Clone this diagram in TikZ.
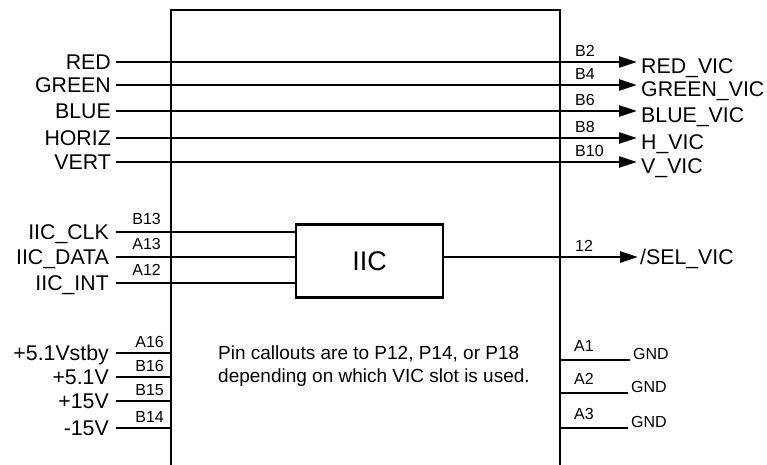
\documentclass[tikz,border=0pt]{standalone}
\usepackage{fontspec}
\setmainfont{Liberation Sans}
\usetikzlibrary{positioning}
\usetikzlibrary{arrows.meta,shapes}
\usetikzlibrary{calc}

\tikzset{
  sig/.style={font=\fontsize{21.3}{24}\selectfont, inner ysep=0pt, inner xsep=5pt, text height=15pt, text depth=0pt},
  pinlab/.style={font=\fontsize{16}{18}\selectfont, inner sep=0pt, text height=11pt, text depth=0pt},
  gndlab/.style={font=\fontsize{16}{18}\selectfont, inner ysep=0pt, inner xsep=3pt, text height=11pt, text depth=0pt},
  wire/.style={line width=2.4pt},
  sigarrow/.style={wire, -{Triangle[length=18pt,width=11pt]}}
}

\begin{document}
\begin{tikzpicture}[x=1pt,y=-1pt]

  \useasboundingbox (0,0) rectangle (767,464);

  % connector body, open at the bottom
  \draw[wire] (171,470) -- (171,10) -- (560,10) -- (560,470);

  \node[draw, line width=2.4pt, minimum width=147pt, minimum height=73pt, inner sep=0pt,
        font=\fontsize{27}{30}\selectfont] (iic) at (369.5,260.8) {IIC};

  % video signals
  \foreach \y/\name/\lab/\pin/\vic in {62/red/RED/B2/RED\_VIC, 85/green/GREEN/B4/GREEN\_VIC,
        111/blue/BLUE/B6/BLUE\_VIC, 138/horiz/HORIZ/B8/H\_VIC, 162/vert/VERT/B10/V\_VIC} {
    \node[sig, anchor=east] (\name) at (116,\y) {\lab};
    \coordinate (\name tip) at (637,\y);
    \node[sig, anchor=west, inner xsep=4pt, yshift=-4pt] (\name vic) at (\name tip) {\vic};
    \draw[sigarrow] (\name) -- (\name tip);
    \node[pinlab, anchor=south west] (\name pin) at (575,\y-5) {\pin};
  }

  % IIC bus
  \foreach \y/\name/\lab/\pin in {232/iicclk/IIC\_CLK/B13, 257/iicdata/IIC\_DATA/A13, 283/iicint/IIC\_INT/A12} {
    \node[sig, anchor=east, inner xsep=7pt] (\name) at (116,\y) {\lab};
    \draw[wire] (\name) -- (\name -| iic.west);
    \node[pinlab, anchor=south east] (\name pin) at (161,\y-7.5) {\pin};
  }

  \coordinate (seltip) at (638,257);
  \node[sig, anchor=west, inner xsep=2pt] (selvic) at (seltip) {/SEL\_VIC};
  \draw[sigarrow] (iic.east |- seltip) -- (seltip);
  \node[pinlab, anchor=south west] (selpin) at (575,252) {12};

  % supplies
  \foreach \y/\name/\lab/\pin in {353/vstby/+5.1Vstby/A16, 377/vfive/+5.1V/B16, 401/vpos/+15V/B15, 428/vneg/-15V/B14} {
    \node[sig, anchor=east, inner xsep=7pt] (\name) at (116,\y) {\lab};
    \coordinate (\name end) at (171,\y);
    \draw[wire] (\name) -- (\name end);
    \node[pinlab, anchor=south east] (\name pin) at (164,\y-5.5) {\pin};
  }

  % grounds
  \foreach \y/\x/\name/\pin in {360/630/gnda/A1, 393/628/gndb/A2, 428/628/gndc/A3} {
    \coordinate (\name start) at (560,\y);
    \node[gndlab, anchor=south west] (\name) at (\x,\y) {GND};
    \draw[wire] (\name start) -- (\name.south west);
    \node[pinlab, anchor=south west] (\name pin) at (574,\y-8.5) {\pin};
  }

  \node[anchor=west, inner sep=0pt, align=left, font=\fontsize{19}{22.7}\selectfont] (note) at (218,366)
    {Pin callouts are to P12, P14, or P18\\depending on which VIC slot is used.};

\end{tikzpicture}
\end{document}
